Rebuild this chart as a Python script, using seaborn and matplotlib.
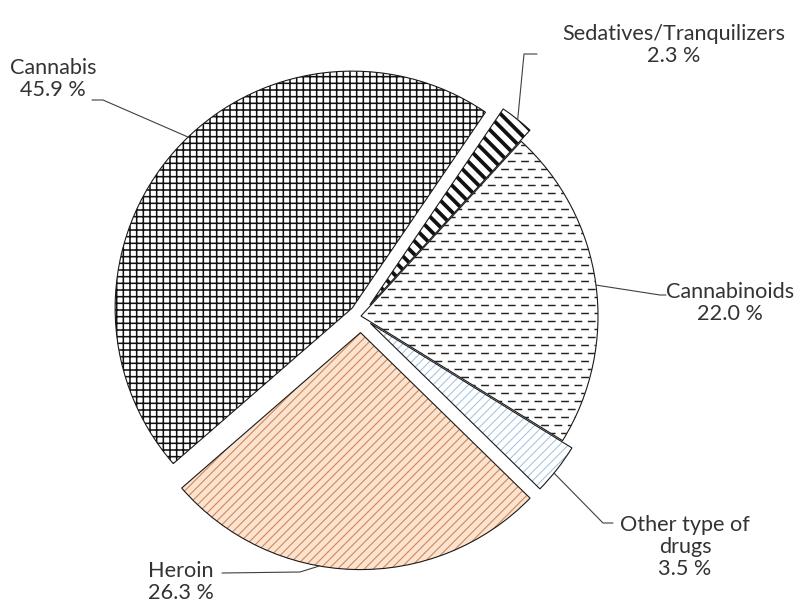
import numpy as np
import matplotlib
matplotlib.use("Agg")
import matplotlib.pyplot as plt
import seaborn as sns

# data (share of treatment demand, %)
categories = ["Cannabis", "Sedatives/Tranquilizers", "Cannabinoids",
              "Other type of\ndrugs", "Heroin"]
shares = [45.9, 2.3, 22.0, 3.5, 26.3]

# styling per slice
fill_colors = ["white", "white", "white", "white", "#FBE3D0"]
hatch_colors = ["#111111", "#111111", "white", "#9DC3E6", "#D0885A"]
hatches = ["++", "\\\\", "", "///", "///"]
hatch_widths = [1.4, 3.4, 1.0, 0.9, 1.0]
explode = [0.05, 0.06, 0.0, 0.05, 0.07]

# leader line layout: angle on the slice arc (deg), elbow and end (pixels), text centre (pixels)
leader_angle = [133.8, 51.4, 7.5, -39.2, -100.0]
leader_elbow = [(103, 100), (524, 54), (660, 295), (603, 523), (300, 572)]
leader_end = [(92, 100), (537, 54), (666, 295), (613, 523), (222, 573)]
text_pos = [(53, 79), (674, 45), (730, 303), (685, 547), (181, 582)]

W, H, DPI = 811, 603, 80
CX, CY, R_PX = 361, 316, 237


def px(x, y):
    # reference pixel -> data units (pie radius = 1)
    return (x - CX) / R_PX, (CY - y) / R_PX


sns.set_theme(style="white")
plt.rcParams["font.family"] = ["Lato", "DejaVu Sans"]
plt.rcParams["lines.scale_dashes"] = False

fig = plt.figure(figsize=(W / DPI, H / DPI), dpi=DPI)
ax = fig.add_axes([0, 0, 1, 1])

pie_kw = dict(explode=explode, startangle=221, counterclock=False, radius=1, center=(0, 0))

# fill layer
fills, _ = ax.pie(shares, colors=fill_colors, wedgeprops=dict(linewidth=0), **pie_kw)

# hatch layer
hatch_layer, _ = ax.pie(shares, wedgeprops=dict(linewidth=0), **pie_kw)
for w, hc, hp, hw in zip(hatch_layer, hatch_colors, hatches, hatch_widths):
    w.set_facecolor("none")
    w.set_edgecolor(hc)
    w.set_hatch(hp)
    if hasattr(w, "set_hatch_linewidth"):
        w.set_hatch_linewidth(hw)

# outline layer
outlines, _ = ax.pie(shares, wedgeprops=dict(linewidth=1.0, edgecolor="#1a1a1a",
                                             facecolor="none"), **pie_kw)
for w in outlines:
    w.set_facecolor("none")

# dashed rows inside the Cannabinoids slice
cb = outlines[2]
rows = np.arange(-1.0, 1.0, 8.0 / R_PX)
for k, off in enumerate([0, 6.0]):
    lc = ax.hlines(rows[k::2], -0.2, 1.1, colors="#222222", linewidth=1.3,
                   linestyles=[(off, (7.0, 5.0))])
    lc.set_clip_path(cb)

# labels with leader lines
for w, name, val, ang, elb, end, tp in zip(outlines, categories, shares, leader_angle,
                                          leader_elbow, leader_end, text_pos):
    a = np.deg2rad(ang)
    x0 = w.center[0] + w.r * np.cos(a)
    y0 = w.center[1] + w.r * np.sin(a)
    x1, y1 = px(*elb)
    x2, y2 = px(*end)
    ax.plot([x0, x1, x2], [y0, y1, y2], color="#404040", linewidth=1.0)
    tx, ty = px(*tp)
    ax.text(tx, ty, f"{name}\n{val:.1f} %", ha="center", va="center",
            multialignment="center", fontsize=19.5, color="#333333", linespacing=1.15)

ax.set_xlim(-CX / R_PX, (W - CX) / R_PX)
ax.set_ylim(-(H - CY) / R_PX, CY / R_PX)
ax.set_aspect("auto")
ax.axis("off")

fig.savefig("out.png", dpi=DPI, facecolor="white")
